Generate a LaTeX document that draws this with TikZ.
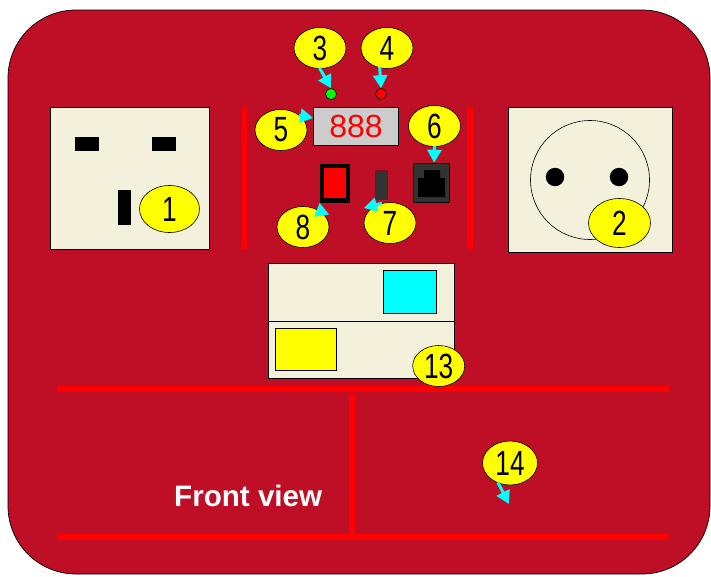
\documentclass[tikz,border=0pt]{standalone}
\usepackage{fontspec}
\setmainfont{Liberation Sans}
\newfontfamily\numfont[FakeStretch=0.75]{Liberation Sans}
\usetikzlibrary{shapes, positioning, arrows.meta, calc}
\definecolor{panelColor}{RGB}{190,15,38}
\definecolor{creamColor}{RGB}{243,240,220}
\definecolor{darkColor}{RGB}{51,51,51}
\definecolor{barColor}{RGB}{255,0,0}
\definecolor{tagColor}{RGB}{255,255,0}
\definecolor{arrowColor}{RGB}{0,255,255}
\definecolor{ledGreenColor}{RGB}{0,255,0}
\tikzstyle{socket}=[draw=black, fill=creamColor, line width=0.8pt]
\tikzstyle{slot}=[fill=black]
\tikzstyle{bar}=[draw=barColor, line width=5.2pt]
\tikzstyle{callout}=[ellipse, draw=black, fill=tagColor, line width=0.6pt, inner sep=0pt, minimum width=52pt, minimum height=41pt, font=\numfont\fontsize{35}{35}\selectfont]
\tikzstyle{arrow}=[-{Triangle[length=13pt,width=14pt]}, line width=3pt, draw=arrowColor, shorten <=-1pt]
\tikzstyle{led}=[circle, draw=black, line width=0.6pt, inner sep=0pt, minimum size=11pt]
\tikzstyle{part}=[rectangle, inner sep=0pt]
\begin{document}
\begin{tikzpicture}[x=1pt, y=-1pt]
      \useasboundingbox (0,0) rectangle (711,576);
      % housing
      \draw [draw=black, fill=panelColor, line width=0.7pt, rounded corners=68pt] (8,10) rectangle (710,574);
      % left socket
      \draw [socket] (50,107.5) rectangle (209.5,249);
      \fill [slot] (75,137) rectangle (98.5,150.5);
      \fill [slot] (152,137) rectangle (175.5,150.5);
      \fill [slot] (117.5,190) rectangle (131,225);
      % right socket
      \draw [socket] (508.5,107) rectangle (672,252.5);
      \draw [draw=black, line width=0.6pt] (590,180) circle (59.5);
      \fill [slot] (555,177) circle (9.2);
      \fill [slot] (619,177) circle (9.2);
      % centre controls
      \draw [bar] (244.5,107) -- (244.5,249);
      \draw [bar] (470,107) -- (470,249);
      \node (display) [part, draw=black, fill=black!20, line width=0.7pt, minimum width=85pt, minimum height=37.5pt, text=barColor, font=\fontsize{32}{32}\selectfont] at (356,126.3) {888};
      \node (ledGreen) [led, fill=ledGreenColor] at (331,94) {};
      \node (ledRed) [led, fill=barColor] at (381,94) {};
      \node (switch) [part, draw=black, fill=barColor, line width=4.4pt, minimum width=26.5pt, minimum height=34.5pt] at (335,183.3) {};
      \node (button) [part, draw=panelColor!70!black, fill=darkColor, line width=0.7pt, minimum width=12.5pt, minimum height=29pt] at (381.3,184.5) {};
      \node (jack) [part, draw=black, fill=darkColor, line width=0.7pt, minimum width=36pt, minimum height=39.5pt] at (431,182.8) {};
      \fill [black] (418,178) -- (424,178) -- (424,170) -- (440,170) -- (440,178) -- (445,178) -- (445,197) -- (418,197) -- cycle;
      % lower box
      \draw [socket] (268.5,263.7) rectangle (454,378.7);
      \draw [black, line width=0.8pt] (268.5,321.3) -- (454,321.3);
      \draw [draw=black, fill=arrowColor, line width=0.8pt] (383,270) rectangle (436.5,313.5);
      \draw [draw=black, fill=tagColor, line width=0.8pt] (275.5,328.5) rectangle (336.5,370);
      % front rails
      \draw [bar] (57,389) -- (669,389);
      \draw [bar] (57,537) -- (669,537);
      \draw [bar] (352,393) -- (352,535);
      \node (front) [text=white, font=\bfseries\fontsize{29.6}{29.6}\selectfont, anchor=base west, inner sep=0pt] at (174,506) {Front view};
      % callouts
      \node (c1) [callout, minimum width=60pt, minimum height=47pt] at (169.5,209) {1};
      \node (c2) [callout, minimum width=62pt, minimum height=49pt] at (619.5,223) {2};
      \node (c3) [callout] at (320,48) {3};
      \node (c4) [callout] at (387,48) {4};
      \node (c5) [callout] at (281,130) {5};
      \node (c6) [callout] at (434.5,126) {6};
      \node (c7) [callout] at (390,223) {7};
      \node (c8) [callout] at (303,227) {8};
      \node (c13) [callout] at (438.7,366) {13};
      \node (c14) [callout, minimum width=55pt, minimum height=44pt] at (510,463) {14};
      \coordinate (tip7) at (364,208);
      \coordinate (tip14) at (509,504);
      \draw [arrow] (c3.south) -- (ledGreen.north);
      \draw [arrow] (c4.250) -- (ledRed.north);
      \draw [arrow] (c5.37) -- (display.169);
      \draw [arrow] (c6.south) -- (jack.81);
      \draw [arrow] (c7.115) -- (tip7);
      \draw [arrow] (c8.40) -- (switch.south west);
      \draw [arrow] (c14.240) -- (tip14);
    \end{tikzpicture}
\end{document}
